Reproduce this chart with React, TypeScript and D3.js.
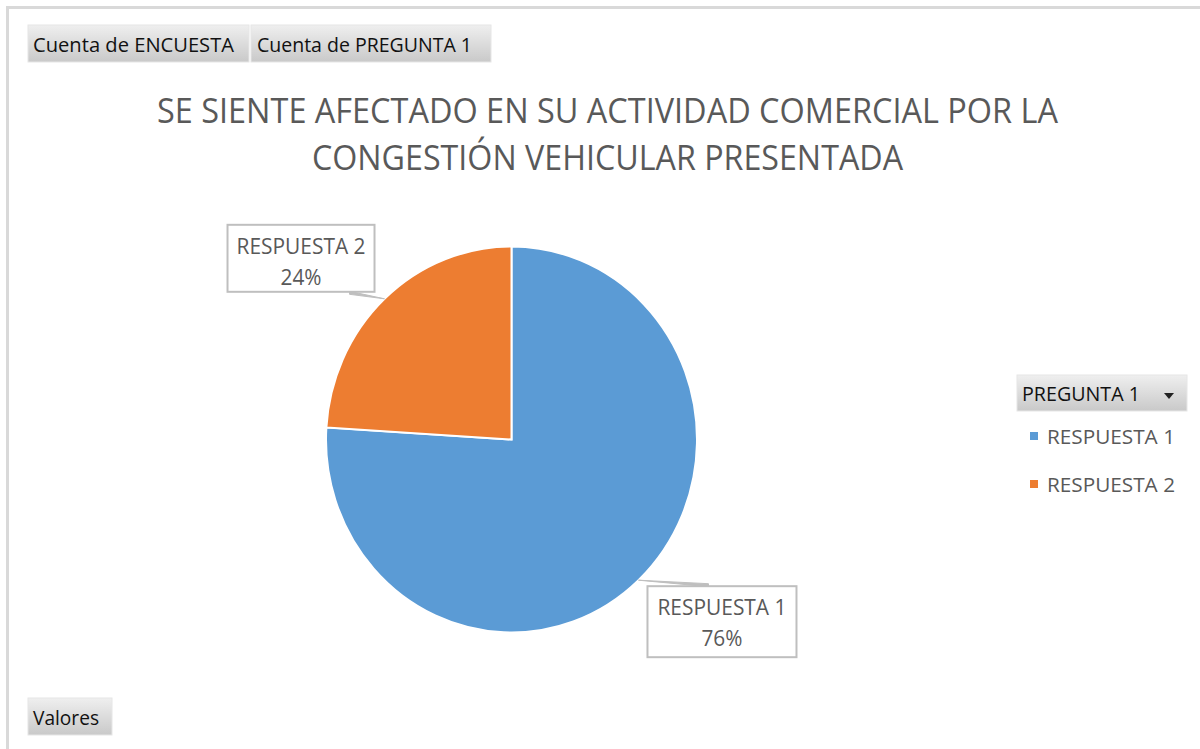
import React from "react";
import * as d3 from "d3";

const categories = ["RESPUESTA 1", "RESPUESTA 2"];
const values = [76, 24];
const colors = ["#5b9bd5", "#ed7d31"];
const titleLines = [
  "SE SIENTE AFECTADO EN SU ACTIVIDAD COMERCIAL POR LA",
  "CONGESTIÓN VEHICULAR PRESENTADA",
];
const fieldButtons = ["Cuenta de ENCUESTA", "Cuenta de PREGUNTA 1"];
const legendTitle = "PREGUNTA 1";
const valuesButton = "Valores";

const W = 1200;
const H = 749;
const FONT = "'Open Sans', 'Noto Sans', sans-serif";
const GREY = "#595959";

function Btn({ x, y, w, h, label, tx, tl, children }: any) {
  return (
    <g>
      <rect x={x} y={y} width={w} height={h} fill="url(#btnGrad)" stroke="#e6e6e6" strokeWidth={1} />
      <text x={tx} y={y + h - 10} fontFamily={FONT} fontSize={20} fill="#111" textLength={tl} lengthAdjust="spacingAndGlyphs">
        {label}
      </text>
      {children}
    </g>
  );
}

export default function App() {
  const cx = 511.5;
  const cy = 439.5;
  const rx = 185.5;
  const ry = 193;
  const total = d3.sum(values);
  const pie = d3.pie<number>().sort(null).value((d) => d)(values);
  const arc = d3.arc<any>().innerRadius(0).outerRadius(rx);
  const sy = ry / rx;

  const anchors = pie.map((p) => {
    const a = (p.startAngle + p.endAngle) / 2;
    return [cx + Math.sin(a) * rx, cy - Math.cos(a) * ry];
  });

  // label box offsets relative to leader anchor (layout)
  const boxes = [
    { dx: 9, dy: 6, w: 149, h: 71, lead: [[0, 0], [70, 5]] },
    { dx: -157, dy: -74, w: 147, h: 67, lead: [[0, 0], [-35, -6]] },
  ];

  return (
    <div style={{ position: "fixed", left: 0, top: 0, width: W, height: H, background: "#fff" }}>
      <svg width={W} height={H} style={{ display: "block" }}>
        <defs>
          <linearGradient id="btnGrad" x1="0" y1="0" x2="0" y2="1">
            <stop offset="0" stopColor="#efefef" />
            <stop offset="1" stopColor="#c9c9c9" />
          </linearGradient>
        </defs>
        <rect x={0} y={0} width={W} height={H} fill="#fff" />
        {/* outer frame */}
        <path d={`M7.5,${H} V7.5 H${W}`} fill="none" stroke="#d9d9d9" strokeWidth={3} />

        {/* field buttons */}
        <Btn x={28} y={25} w={221} h={37} label={fieldButtons[0]} tx={33} tl={201} />
        <Btn x={251} y={25} w={240} h={37} label={fieldButtons[1]} tx={257} tl={215} />
        <Btn x={28} y={698} w={84} h={37} label={valuesButton} tx={33} tl={66} />
        <Btn x={1017} y={375} w={170} h={36} label={legendTitle} tx={1022} tl={118}>
          <path d="M1164,393 L1174,393 L1169,399 Z" fill="#222" />
        </Btn>

        {/* title */}
        <text x={607.5} y={123} textAnchor="middle" fontFamily={FONT} fontSize={34} fill={GREY} textLength={901} lengthAdjust="spacingAndGlyphs">
          {titleLines[0]}
        </text>
        <text x={607.5} y={170} textAnchor="middle" fontFamily={FONT} fontSize={34} fill={GREY} textLength={591} lengthAdjust="spacingAndGlyphs">
          {titleLines[1]}
        </text>

        {/* pie */}
        <g transform={`translate(${cx},${cy}) scale(1,${sy})`}>
          {pie.map((p, i) => (
            <path key={i} d={arc(p) as string} fill={colors[i]} stroke="#fff" strokeWidth={2} vectorEffect="non-scaling-stroke" />
          ))}
        </g>

        {/* data labels */}
        {pie.map((p, i) => {
          const [ax, ay] = anchors[i];
          const b = boxes[i];
          const bx = ax + b.dx;
          const by = ay + b.dy;
          const pct = Math.round((values[i] / total) * 100) + "%";
          const [[l0x, l0y], [l1x, l1y]] = b.lead;
          return (
            <g key={i}>
              <path
                d={`M${ax + l0x},${ay + l0y} L${ax + l1x},${ay + l1y - 1.5} L${ax + l1x},${ay + l1y + 1.5} Z`}
                fill="#bfbfbf"
                stroke="#bfbfbf"
                strokeWidth={1}
              />
              <rect x={bx} y={by} width={b.w} height={b.h} fill="#fff" stroke="#bfbfbf" strokeWidth={2} />
              <text x={bx + b.w / 2} y={by + 29} textAnchor="middle" fontFamily={FONT} fontSize={21} fill={GREY} textLength={129} lengthAdjust="spacingAndGlyphs">
                {categories[i]}
              </text>
              <text x={bx + b.w / 2} y={by + 60} textAnchor="middle" fontFamily={FONT} fontSize={21} fill={GREY} textLength={41} lengthAdjust="spacingAndGlyphs">
                {pct}
              </text>
            </g>
          );
        })}

        {/* legend */}
        {categories.map((c, i) => (
          <g key={c}>
            <rect x={1030} y={432 + i * 48} width={8} height={8} fill={colors[i]} />
            <text x={1047} y={444 + i * 48} fontFamily={FONT} fontSize={20} fill={GREY} textLength={128} lengthAdjust="spacingAndGlyphs">
              {c}
            </text>
          </g>
        ))}
      </svg>
    </div>
  );
}
